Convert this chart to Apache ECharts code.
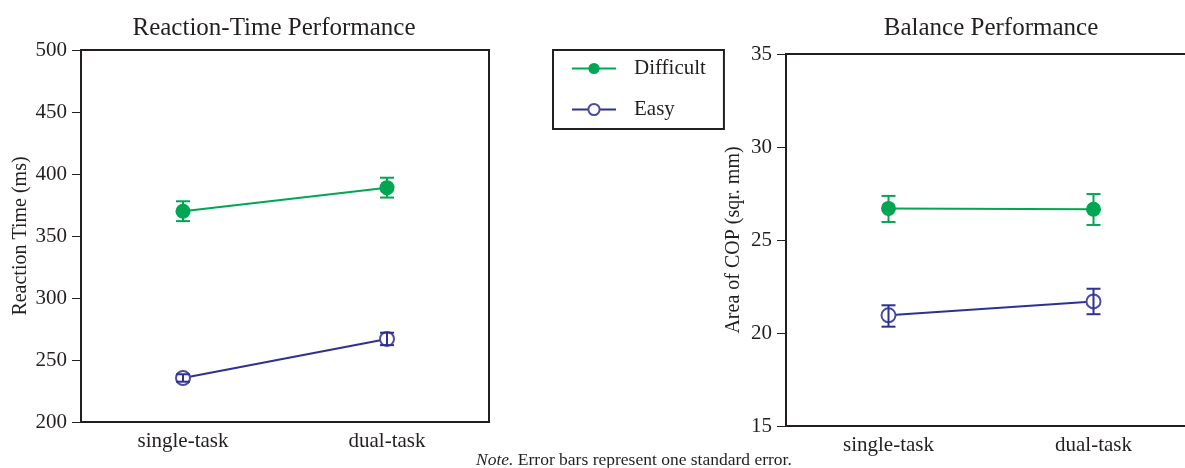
<!DOCTYPE html>
<html>
<head>
<meta charset="utf-8">
<script src="https://cdn.jsdelivr.net/npm/echarts@6/dist/echarts.min.js"></script>
<style>html,body{margin:0;padding:0;background:#fff;}#c{width:1185px;height:468px;}</style>
</head>
<body>
<div id="c"></div>
<script>
// ---- data ----
const categories = ['single-task', 'dual-task'];
const rtTicks = [200, 250, 300, 350, 400, 450, 500];
const copTicks = [15, 20, 25, 30, 35];
const rtDifficult = [370, 389];
const rtDifficultErr = [[362, 378], [381, 397]];
const rtEasy = [235.5, 267];
const rtEasyErr = [[232.5, 238.5], [262, 272]];
const copDifficult = [26.7, 26.65];
const copDifficultErr = [[25.97, 27.37], [25.81, 27.47]];
const copEasy = [20.95, 21.7];
const copEasyErr = [[20.34, 21.49], [21.01, 22.38]];

const GREEN = '#00a651';
const BLUE = '#2e3192';
const INK = '#231f20';
const FONT = '"Liberation Serif", "DejaVu Serif", serif';

function errSeries(name, err, color, xi, yi) {
  return {
    type: 'custom', name: name, xAxisIndex: xi, yAxisIndex: yi, z: 5,
    data: err.map((e, i) => [i, e[0], e[1]]),
    renderItem: function (params, api) {
      const lo = api.coord([api.value(0), api.value(1)]);
      const hi = api.coord([api.value(0), api.value(2)]);
      const w = 7;
      const st = { stroke: color, lineWidth: 2 };
      return { type: 'group', children: [
        { type: 'line', shape: { x1: lo[0], y1: lo[1], x2: hi[0], y2: hi[1] }, style: st },
        { type: 'line', shape: { x1: lo[0] - w, y1: lo[1], x2: lo[0] + w, y2: lo[1] }, style: st },
        { type: 'line', shape: { x1: hi[0] - w, y1: hi[1], x2: hi[0] + w, y2: hi[1] }, style: st }
      ]};
    },
    silent: true
  };
}
function lineSeries(name, data, xi, yi, filled) {
  return {
    type: 'line', name: name, xAxisIndex: xi, yAxisIndex: yi, data: data, z: 3,
    symbol: filled ? 'circle' : 'emptyCircle',
    symbolSize: filled ? 15 : 14,
    showAllSymbol: true,
    lineStyle: { color: filled ? GREEN : BLUE, width: 2 },
    itemStyle: filled ? { color: GREEN } : { color: '#4a4ca0', borderWidth: 1 },
    animation: false
  };
}
function yAxis(gi, min, max, interval, name, gap) {
  return {
    type: 'value', gridIndex: gi, min: min, max: max, interval: interval,
    name: name, nameLocation: 'middle', nameGap: gap,
    nameTextStyle: { fontFamily: FONT, fontSize: 20, color: INK },
    axisLine: { show: false },
    axisTick: { show: true, length: 9, lineStyle: { color: INK, width: 1 } },
    axisLabel: { fontFamily: FONT, fontSize: 21, color: INK, margin: 14 },
    splitLine: { show: false }
  };
}
function xAxis(gi) {
  return {
    type: 'category', gridIndex: gi, data: categories, boundaryGap: true,
    axisLine: { show: false }, axisTick: { show: false },
    axisLabel: { fontFamily: FONT, fontSize: 21, color: INK, margin: 9 },
    splitLine: { show: false }
  };
}

const chart = echarts.init(document.getElementById('c'), null, { renderer: 'canvas' });
chart.setOption({
  animation: false,
  backgroundColor: '#fff',
  title: [
    { text: 'Reaction-Time Performance', left: 269, top: 11, textAlign: 'center',
      textStyle: { fontFamily: FONT, fontSize: 25, fontWeight: 'normal', color: INK } },
    { text: 'Balance Performance', left: 986, top: 11, textAlign: 'center',
      textStyle: { fontFamily: FONT, fontSize: 25, fontWeight: 'normal', color: INK } }
  ],
  legend: {
    data: ['Difficult', 'Easy'], orient: 'vertical', left: 553, top: 50,
    padding: [8, 18, 9, 18], itemGap: 20, itemWidth: 44, itemHeight: 14,
    borderColor: INK, borderWidth: 2,
    textStyle: { fontFamily: FONT, fontSize: 21, color: INK, lineHeight: 20, padding: [0, 0, 0, 13] },
    selectedMode: false
  },
  grid: [
    { left: 81, top: 50, width: 408, height: 372, show: true, borderColor: INK, borderWidth: 2,
      containLabel: false, outerBoundsMode: 'none' },
    { left: 786, top: 54, width: 410, height: 372, show: true, borderColor: INK, borderWidth: 2,
      containLabel: false, outerBoundsMode: 'none' }
  ],
  xAxis: [xAxis(0), xAxis(1)],
  yAxis: [
    yAxis(0, rtTicks[0], rtTicks[rtTicks.length - 1], rtTicks[1] - rtTicks[0], 'Reaction Time (ms)', 50),
    yAxis(1, copTicks[0], copTicks[copTicks.length - 1], copTicks[1] - copTicks[0], 'Area of COP (sqr. mm)', 42)
  ],
  graphic: [{
    type: 'text', left: 476, top: 451,
    style: {
      text: '{i|Note.} Error bars represent one standard error.',
      font: '17.5px ' + FONT, fill: INK,
      rich: { i: { fontStyle: 'italic', fontFamily: FONT, fontSize: 17.5, fill: INK } }
    }
  }],
  series: [
    lineSeries('Difficult', rtDifficult, 0, 0, true),
    lineSeries('Easy', rtEasy, 0, 0, false),
    errSeries('errRD', rtDifficultErr, GREEN, 0, 0),
    errSeries('errRE', rtEasyErr, BLUE, 0, 0),
    lineSeries('Difficult', copDifficult, 1, 1, true),
    lineSeries('Easy', copEasy, 1, 1, false),
    errSeries('errCD', copDifficultErr, GREEN, 1, 1),
    errSeries('errCE', copEasyErr, BLUE, 1, 1)
  ]
});
</script>
</body>
</html>
